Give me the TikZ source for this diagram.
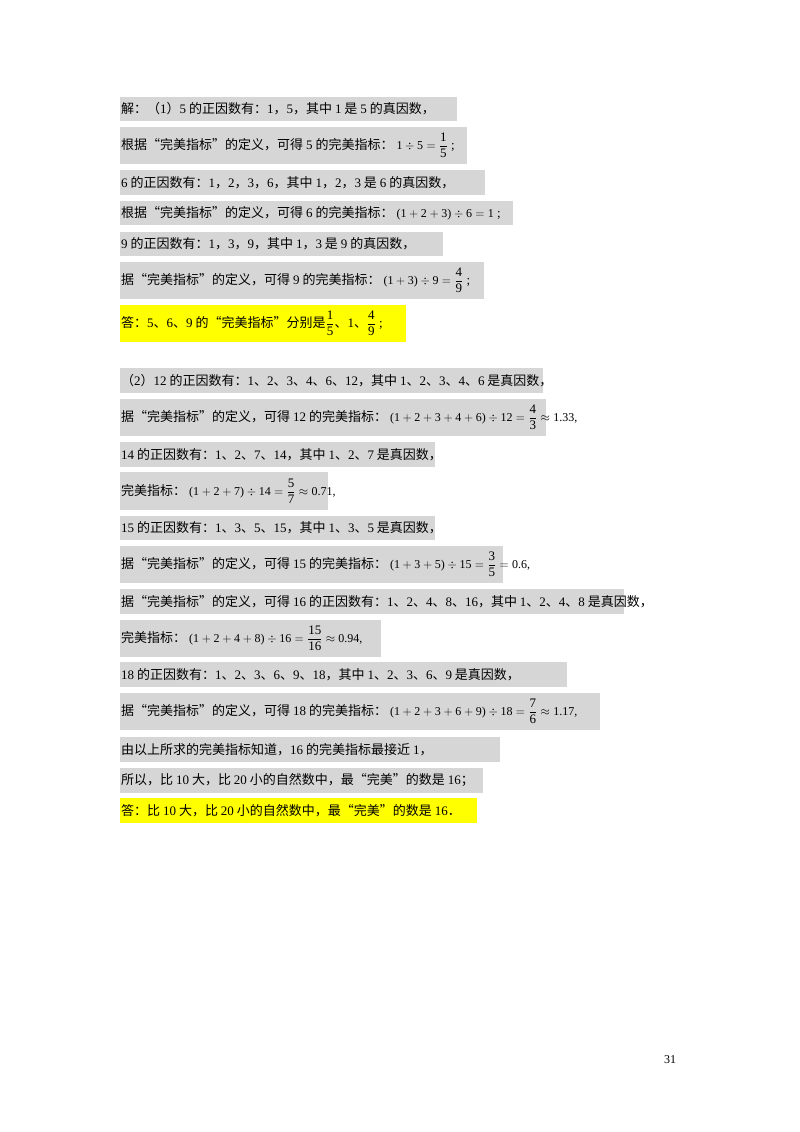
\documentclass[tikz,border=0pt]{standalone}
\usepackage{fontspec}
\usepackage{amsmath}
\setmainfont{Noto Sans CJK SC}
\newfontfamily\lat{Liberation Serif}
\definecolor{hl}{RGB}{214,214,214}
\definecolor{yl}{RGB}{255,255,0}
\newcommand{\mf}[2]{\ensuremath{\genfrac{}{}{0.4pt}{0}{\text{\lat #1}}{\text{\lat #2}}}}
\newcommand{\ms}{\fontsize{12}{14}\selectfont}
\tikzset{ln/.style={anchor=west,inner sep=0pt,font=\fontsize{13}{16}\selectfont}}
\newcommand{\row}[6]{\fill[#1] (120,#2) rectangle (#4,#3);
  \node[ln] (#5) at (121,{(#2+#3)/2}) {#6};}
\begin{document}
\begin{tikzpicture}[x=1pt,y=-1pt]
\useasboundingbox (0,0) rectangle (800,1132);
\fill[white] (0,0) rectangle (800,1132);
\row{hl}{97}{121}{457}{r1}{解：（{\lat 1}）{\lat 5} 的正因数有：{\lat 1}，{\lat 5}，其中 {\lat 1} 是 {\lat 5} 的真因数，}
\row{hl}{127}{164}{467}{r2}{根据“完美指标”的定义，可得 {\lat 5} 的完美指标：{\lat\ms\ 1${}\div{}$5${}={}$}\mf{1}{5}{\lat\ ;}}
\row{hl}{170}{195}{485}{r3}{{\lat 6} 的正因数有：{\lat 1}，{\lat 2}，{\lat 3}，{\lat 6}，其中 {\lat 1}，{\lat 2}，{\lat 3} 是 {\lat 6} 的真因数，}
\row{hl}{201}{225}{513}{r4}{根据“完美指标”的定义，可得 {\lat 6} 的完美指标：{\lat\ms\ (1${}+{}$2${}+{}$3)${}\div{}$6${}={}$1}{\lat\ ;}}
\row{hl}{232}{256}{443}{r5}{{\lat 9} 的正因数有：{\lat 1}，{\lat 3}，{\lat 9}，其中 {\lat 1}，{\lat 3} 是 {\lat 9} 的真因数，}
\row{hl}{262}{299}{484}{r6}{据“完美指标”的定义，可得 {\lat 9} 的完美指标：{\lat\ms\ (1${}+{}$3)${}\div{}$9${}={}$}\mf{4}{9}{\lat\ ;}}
\row{yl}{305}{342}{406}{r7}{答：{\lat 5}、{\lat 6}、{\lat 9} 的“完美指标”分别是\mf{1}{5}、{\lat 1}、\mf{4}{9}{\lat\ ;}}
\row{hl}{368}{393}{543}{r8}{ （{\lat 2}）{\lat 12} 的正因数有：{\lat 1}、{\lat 2}、{\lat 3}、{\lat 4}、{\lat 6}、{\lat 12}，其中 {\lat 1}、{\lat 2}、{\lat 3}、{\lat 4}、{\lat 6} 是真因数，}
\row{hl}{399}{436}{546}{r9}{据“完美指标”的定义，可得 {\lat 12} 的完美指标：{\lat\ms\ (1${}+{}$2${}+{}$3${}+{}$4${}+{}$6)${}\div{}$12${}={}$}\mf{4}{3}{\lat\ms${}\approx{}$1.33,}}
\row{hl}{442}{467}{435}{r10}{{\lat 14} 的正因数有：{\lat 1}、{\lat 2}、{\lat 7}、{\lat 14}，其中 {\lat 1}、{\lat 2}、{\lat 7} 是真因数，}
\row{hl}{472}{510}{328}{r11}{完美指标：{\lat\ms\ (1${}+{}$2${}+{}$7)${}\div{}$14${}={}$}\mf{5}{7}{\lat\ms${}\approx{}$0.71,}}
\row{hl}{516}{540}{435}{r12}{{\lat 15} 的正因数有：{\lat 1}、{\lat 3}、{\lat 5}、{\lat 15}，其中 {\lat 1}、{\lat 3}、{\lat 5} 是真因数，}
\row{hl}{546}{583}{503}{r13}{据“完美指标”的定义，可得 {\lat 15} 的完美指标：{\lat\ms\ (1${}+{}$3${}+{}$5)${}\div{}$15${}={}$}\mf{3}{5}{\lat\ms${}={}$0.6,}}
\row{hl}{589}{614}{624}{r14}{据“完美指标”的定义，可得 {\lat 16} 的正因数有：{\lat 1}、{\lat 2}、{\lat 4}、{\lat 8}、{\lat 16}，其中 {\lat 1}、{\lat 2}、{\lat 4}、{\lat 8} 是真因数，}
\row{hl}{620}{657}{381}{r15}{完美指标：{\lat\ms\ (1${}+{}$2${}+{}$4${}+{}$8)${}\div{}$16${}={}$}\mf{15}{16}{\lat\ms${}\approx{}$0.94,}}
\row{hl}{662}{687}{567}{r16}{{\lat 18} 的正因数有：{\lat 1}、{\lat 2}、{\lat 3}、{\lat 6}、{\lat 9}、{\lat 18}，其中 {\lat 1}、{\lat 2}、{\lat 3}、{\lat 6}、{\lat 9} 是真因数，}
\row{hl}{693}{730}{600}{r17}{据“完美指标”的定义，可得 {\lat 18} 的完美指标：{\lat\ms\ (1${}+{}$2${}+{}$3${}+{}$6${}+{}$9)${}\div{}$18${}={}$}\mf{7}{6}{\lat\ms${}\approx{}$1.17,}}
\row{hl}{737}{762}{500}{r18}{由以上所求的完美指标知道，{\lat 16} 的完美指标最接近 {\lat 1}，}
\row{hl}{768}{793}{483}{r19}{所以，比 {\lat 10} 大，比 {\lat 20} 小的自然数中，最“完美”的数是 {\lat 16}；}
\row{yl}{798}{823}{477}{r20}{答：比 {\lat 10} 大，比 {\lat 20} 小的自然数中，最“完美”的数是 {\lat 16}．}
\node[font=\lat\fontsize{12}{14}\selectfont] (pg) at (670,1060) {31};
\end{tikzpicture}
\end{document}
